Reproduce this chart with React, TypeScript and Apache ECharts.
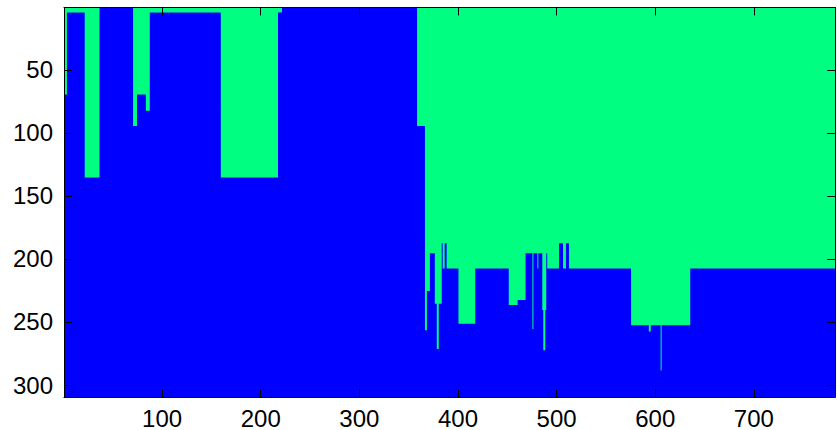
import React, { useEffect, useRef } from "react";
import * as echarts from "echarts";

// image size (columns x rows)
const imageCols = 782;
const imageRows = 309;

// runs of columns: green fills from row 1 down to greenDepth, blue below
const runStartCol = [1, 4, 22, 37, 71, 75, 84, 88, 160, 218, 222, 359,
  367, 369, 372, 377, 379, 381, 384, 385, 387, 389, 401, 418, 452, 461, 469, 476, 477,
  481, 482, 485, 486, 487, 489, 490, 491, 503, 507, 510, 513, 576, 594, 596, 605, 606, 607, 636];
const runEndCol = [3, 21, 36, 70, 74, 83, 87, 159, 217, 221, 358, 366,
  368, 371, 376, 378, 380, 383, 384, 386, 388, 400, 417, 451, 460, 468, 475, 476, 480,
  481, 484, 485, 486, 488, 489, 490, 502, 506, 509, 512, 575, 593, 595, 604, 605, 606, 635, 782];
const greenDepth = [69, 4, 135, 0, 94, 69, 82, 4, 135, 4, 0, 94,
  256, 225, 195, 235, 271, 235, 187, 207, 187, 207, 251, 207, 236, 232, 195, 255, 195,
  207, 195, 195, 240, 272, 240, 195, 207, 187, 207, 187, 207, 252, 257, 252, 252, 288, 252, 207];

const xTickValues = [100, 200, 300, 400, 500, 600, 700];
const yTickValues = [50, 100, 150, 200, 250, 300];

const BLUE = "#0000FF";
const GREEN = "#00FF80";

function greenBoundary(): [number, number][] {
  const pts: [number, number][] = [];
  for (let i = 0; i < runStartCol.length; i++) {
    const y = greenDepth[i] + 0.5;
    pts.push([runStartCol[i] - 0.5, y]);
    pts.push([runEndCol[i] + 0.5, y]);
  }
  return pts;
}

export default function App() {
  const ref = useRef<HTMLDivElement>(null);
  useEffect(() => {
    if (!ref.current) return;
    const chart = echarts.init(ref.current, null, { renderer: "svg" });
    const font = "Liberation Sans, Arial, Helvetica, sans-serif";
    const axisLine = { show: true, onZero: false, lineStyle: { color: "#000", width: 1 } };
    const tick = (vals: number[]) => ({
      show: true,
      inside: true,
      length: 8,
      customValues: vals,
      lineStyle: { color: "#000", width: 1 },
    });
    chart.setOption({
      animation: false,
      backgroundColor: "#fff",
      grid: { left: 64, top: 7.4, right: 1.8, bottom: 32, containLabel: false },
      xAxis: [
        {
          type: "value",
          position: "bottom",
          min: 0.5,
          max: imageCols + 0.5,
          z: 10,
          axisLine,
          axisTick: tick(xTickValues),
          axisLabel: {
            show: true,
            customValues: xTickValues,
            color: "#000",
            fontSize: 24,
            fontFamily: font,
            margin: 9,
          },
          splitLine: { show: false },
        },
        {
          type: "value",
          position: "top",
          min: 0.5,
          max: imageCols + 0.5,
          z: 10,
          axisLine,
          axisTick: tick(xTickValues),
          axisLabel: { show: false },
          splitLine: { show: false },
        },
      ],
      yAxis: [
        {
          type: "value",
          position: "left",
          inverse: true,
          min: 0.5,
          max: imageRows + 0.5,
          z: 10,
          axisLine,
          axisTick: tick(yTickValues),
          axisLabel: {
            show: true,
            customValues: yTickValues,
            color: "#000",
            fontSize: 24,
            fontFamily: font,
            margin: 11,
          },
          splitLine: { show: false },
        },
        {
          type: "value",
          position: "right",
          inverse: true,
          min: 0.5,
          max: imageRows + 0.5,
          z: 10,
          axisLine,
          axisTick: tick(yTickValues),
          axisLabel: { show: false },
          splitLine: { show: false },
        },
      ],
      series: [
        {
          type: "line",
          name: "blue",
          z: 1,
          xAxisIndex: 0,
          yAxisIndex: 0,
          symbol: "none",
          silent: true,
          data: [
            [0.5, imageRows + 0.5],
            [imageCols + 0.5, imageRows + 0.5],
          ],
          lineStyle: { width: 0, opacity: 0 },
          areaStyle: { color: BLUE, opacity: 1, origin: "start" },
        },
        {
          type: "line",
          name: "green",
          z: 2,
          xAxisIndex: 0,
          yAxisIndex: 0,
          symbol: "none",
          silent: true,
          data: greenBoundary(),
          lineStyle: { width: 0, opacity: 0 },
          areaStyle: { color: GREEN, opacity: 1, origin: "start" },
        },
      ],
    });
    return () => chart.dispose();
  }, []);
  return (
    <div
      ref={ref}
      style={{ position: "fixed", left: 0, top: 0, width: 837, height: 430, background: "#fff" }}
    />
  );
}
